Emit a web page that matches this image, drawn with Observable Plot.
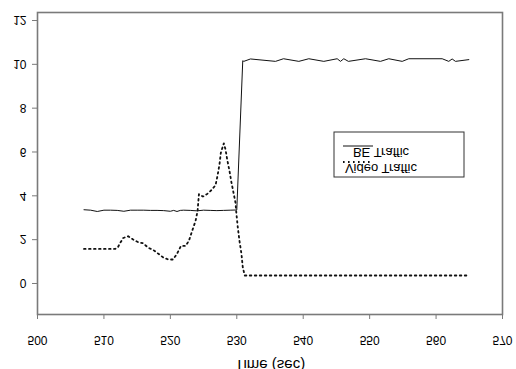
<!DOCTYPE html>
<html><head><meta charset="utf-8">
<script src="https://cdn.jsdelivr.net/npm/d3@7"></script>
<script src="https://cdn.jsdelivr.net/npm/@observablehq/plot@0.6"></script>
<style>
body{margin:0;background:#fff}
svg{font-family:"Liberation Sans",Arial,sans-serif}
</style>
</head><body><div id="chart"></div>
<script>
const xTicks = [500,510,520,530,540,550,560,570];
const yTicks = [0,2,4,6,8,10,12];
const xLabel = "Time (sec)";
const seriesNames = ["BE Traffic","Video Traffic"];

const beTime = [507,508,509,510,511,512,513,514,515,516,517,518,519,520,520.5,521,521.5,522,523,524,525,526,527,528,529,530,
  530.9,531.06,532.06,535.83,537.03,539.34,540.84,543.1,545.11,545.61,546.11,546.8,549.38,551.63,552.88,554.9,555.89,560.92,561.91,562.42,562.92,564.93];
const beValue = [3.0,2.98,2.92,2.98,2.98,2.97,2.93,2.98,2.98,2.98,2.97,2.97,2.96,2.93,2.97,2.92,2.97,2.98,2.97,2.95,2.98,2.97,2.96,2.97,2.98,2.99,
  9.8,9.77,9.88,9.77,9.89,9.77,9.89,9.77,9.89,9.77,9.89,9.77,9.89,9.77,9.89,9.77,9.89,9.89,9.77,9.88,9.77,9.85];

const videoTime = [507,511.7,512.1,512.5,512.9,513.65,514.4,515.2,515.9,516.7,517.4,518.2,518.9,519.7,520.4,521.0,521.6,522.3,522.8,523.3,523.8,524.1,524.3,524.9,525.5,526.2,526.8,527.1,527.4,527.6,528.05,528.3,528.55,528.9,529.2,529.55,529.8,529.95,530.15,530.4,530.7,530.9,531.2,565];
const videoValue = [1.21,1.21,1.29,1.51,1.71,1.79,1.64,1.51,1.47,1.26,1.17,0.99,0.83,0.73,0.73,0.99,1.35,1.35,1.59,2.05,2.5,2.95,3.71,3.6,3.71,3.9,4.12,4.55,5.08,5.6,6.03,5.76,5.3,4.77,4.24,3.71,3.33,2.8,2.2,1.59,0.99,0.38,0,0];

const be = beTime.map((t,i)=>({t, v: beValue[i]}));
const video = videoTime.map((t,i)=>({t, v: videoValue[i]}));

const gray = "#7a7a7a";
const dots = "1.6,3.4";
const chart = Plot.plot({
  width: 516, height: 369,
  marginLeft: 37, marginRight: 14, marginTop: 12, marginBottom: 55,
  x: {domain: [500,570]},
  y: {domain: [-1.78,12]},
  style: {fontFamily: '"Liberation Sans",Arial,sans-serif', fontSize: "12px", color: "#000", background: "#fff"},
  marks: [
    Plot.axisY({ticks: yTicks, tickSize: 5, tickPadding: 6, dy: 8, stroke: gray, label: null, fontSize: 12}),
    Plot.axisX({ticks: xTicks, tickSize: 5, tickPadding: 16, stroke: gray, label: null, fontSize: 12}),
    Plot.frame({stroke: gray, strokeWidth: 1.6}),
    Plot.line(be, {x: "t", y: "v", stroke: "#111", strokeWidth: 1}),
    Plot.line(video, {x: "t", y: "v", stroke: "#111", strokeWidth: 1.8, strokeDasharray: dots}),
    Plot.text([xLabel], {frameAnchor: "bottom", lineAnchor: "middle", dy: 52, fontSize: 15, fill: "#000"})
  ]
});
document.getElementById("chart").appendChild(chart);

// legend
const svg = d3.select(chart.tagName.toLowerCase()==="svg" ? chart : chart.querySelector("svg"));
const lg = svg.append("g");
lg.append("rect").attr("x",334).attr("y",132).attr("width",130).attr("height",45)
  .attr("fill","#fff").attr("stroke","#333").attr("stroke-width",1);
const rows = [{y:146, dash:null, w:1},{y:162, dash:dots, w:1.8}];
rows.forEach((r,i)=>{
  lg.append("line").attr("x1",343).attr("x2",373).attr("y1",r.y).attr("y2",r.y)
    .attr("stroke","#111").attr("stroke-width",r.w).attr("stroke-dasharray",r.dash);
  lg.append("text").attr("x",381).attr("y",r.y+7).attr("dy","0.32em")
    .attr("font-size",13).attr("fill","#000").text(seriesNames[i]);
});

// flip every text glyph vertically about its own center
document.querySelectorAll("svg text").forEach(t=>{
  const b = t.getBBox(); const cy = b.y + b.height/2;
  const old = t.getAttribute("transform") || "";
  t.setAttribute("transform", old + ` translate(0 ${cy}) scale(1 -1) translate(0 ${-cy})`);
});
</script>
</body></html>
